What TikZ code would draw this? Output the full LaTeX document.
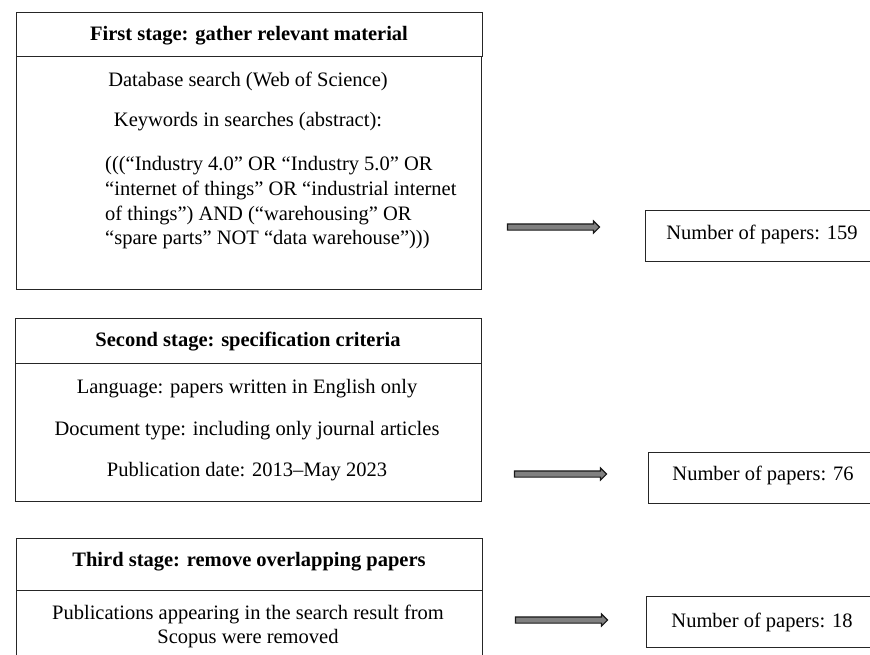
\documentclass[tikz,border=0pt]{standalone}
\usepackage{fontspec}
\setmainfont{Liberation Serif}
\usetikzlibrary{shapes.arrows}
\begin{document}
\begin{tikzpicture}[x=1pt,y=-1pt,
  frame/.style={draw=black!85, line width=1.3pt, inner sep=0pt, anchor=north west},
  lbl/.style={inner sep=0pt, yshift=-2.5pt, font=\fontsize{20.5}{25}\selectfont},
  hdr/.style={inner sep=0pt, yshift=-2.5pt, font=\fontsize{20.5}{25}\selectfont\bfseries},
  fatarrow/.style={single arrow, draw=black!90, fill=black!50, line width=1.1pt,
    minimum height=92pt, inner sep=2.5pt, single arrow head extend=3pt, anchor=center}]
\useasboundingbox (0,0) rectangle (870,654);

% ---- stage 1
\node[frame, minimum width=466pt, minimum height=44pt] (h1) at (16,12) {};
\node[frame, minimum width=465pt, minimum height=233pt] (b1) at (16,56) {};
\node[hdr] (t1) at (249,33) {First stage: gather relevant material};
\node[lbl] (l11) at (248,79) {Database search (Web of Science)};
\node[lbl] (l12) at (248,119) {Keywords in searches (abstract):};
\node[lbl, anchor=west] (q1) at (105,163) {(((“Industry 4.0” OR “Industry 5.0” OR};
\node[lbl, anchor=west] (q2) at (105,188) {“internet of things” OR “industrial internet};
\node[lbl, anchor=west] (q3) at (105,213) {of things”) AND (“warehousing” OR};
\node[lbl, anchor=west] (q4) at (105,237) {“spare parts” NOT “data warehouse”)))};

\node[fatarrow] (a1) at (552,227) {};
\node[frame, minimum width=240pt, minimum height=51pt] (n1) at (645,210) {};
\node[lbl] (nt1) at (762,232) {Number of papers: 159};

% ---- stage 2
\node[frame, minimum width=466pt, minimum height=45pt] (h2) at (15,318) {};
\node[frame, minimum width=466pt, minimum height=138pt] (b2) at (15,363) {};
\node[hdr] (t2) at (248,339) {Second stage: specification criteria};
\node[lbl] (l21) at (247,386) {Language: papers written in English only};
\node[lbl] (l22) at (247,428) {Document type: including only journal articles};
\node[lbl] (l23) at (247,469) {Publication date: 2013–May 2023};

\node[fatarrow] (a2) at (559,474) {};
\node[frame, minimum width=240pt, minimum height=51pt] (n2) at (648,452) {};
\node[lbl] (nt2) at (763,473) {Number of papers: 76};

% ---- stage 3
\node[frame, minimum width=466pt, minimum height=52pt] (h3) at (16,538) {};
\node[frame, minimum width=466pt, minimum height=80pt] (b3) at (16,590) {};
\node[hdr] (t3) at (249,559) {Third stage: remove overlapping papers};
\node[lbl] (l31) at (248,612) {Publications appearing in the search result from};
\node[lbl] (l32) at (248,636) {Scopus were removed};

\node[fatarrow] (a3) at (560,620) {};
\node[frame, minimum width=240pt, minimum height=51pt] (n3) at (646,596) {};
\node[lbl] (nt3) at (762,620) {Number of papers: 18};
\end{tikzpicture}
\end{document}
